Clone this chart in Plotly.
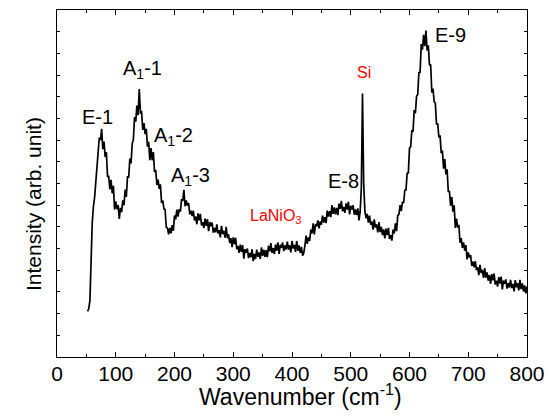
import plotly.graph_objects as go

# Raman spectrum of the film: wavenumber (cm^-1) sampled every 2 cm^-1, intensity in arbitrary units
wavenumber = list(range(52, 801, 2))
intensity = [
    2.10, 2.22, 2.60, 4.50, 6.20, 6.95, 7.35, 8.05, 8.75, 9.35,          # 52-70
    10.12, 10.00, 10.52, 9.58, 9.93, 9.22, 9.45, 8.33, 8.33, 7.73,       # 72-90
    8.17, 7.55, 7.89, 6.80, 7.18, 6.82, 7.00, 6.37, 6.88, 6.68,          # 92-110
    7.22, 7.00, 7.72, 7.38, 8.33, 8.27, 9.15, 8.93, 9.83, 10.03,         # 112-130
    11.07, 10.85, 11.59, 11.15, 12.35, 11.27, 11.30, 10.47, 10.78, 10.28,  # 132-150
    10.52, 9.70, 9.92, 9.08, 9.63, 9.07, 9.45, 8.53, 8.63, 7.93,         # 152-170
    8.18, 7.75, 7.96, 7.10, 7.22, 6.83, 6.80, 5.98, 5.95, 5.65,          # 172-190
    5.95, 5.70, 6.08, 5.82, 6.52, 6.35, 6.80, 6.47, 6.82, 6.70,          # 192-210
    7.28, 7.20, 7.71, 6.95, 7.22, 6.98, 7.10, 6.58, 6.75, 6.50,          # 212-230
    6.75, 6.30, 6.48, 6.12, 6.62, 6.30, 6.60, 6.07, 6.22, 5.95,          # 232-250
    6.38, 6.05, 6.36, 5.80, 6.22, 6.03, 6.20, 5.73, 5.95, 5.75,          # 252-270
    6.12, 5.70, 5.85, 5.52, 6.05, 5.67, 5.82, 5.50, 6.00, 5.48,          # 272-290
    5.65, 5.25, 5.48, 5.07, 5.52, 5.20, 5.50, 4.97, 5.12, 4.80,          # 292-310
    5.18, 4.85, 5.16, 4.53, 4.97, 4.80, 5.00, 4.56, 4.80, 4.60,          # 312-330
    4.97, 4.42, 4.75, 4.52, 4.95, 4.62, 4.82, 4.52, 5.05, 4.66,          # 332-350
    4.95, 4.62, 4.93, 4.60, 5.12, 4.87, 5.25, 4.80, 5.02, 4.75,          # 352-370
    5.18, 4.90, 5.28, 4.75, 5.17, 5.03, 5.28, 4.88, 5.15, 4.95,          # 372-390
    5.32, 4.95, 5.15, 4.82, 5.35, 5.00, 5.17, 4.85, 5.35, 4.90,          # 392-410
    5.15, 4.80, 5.08, 4.67, 4.80, 5.15, 5.60, 5.22, 5.52, 5.35,          # 412-430
    5.88, 5.70, 6.16, 5.65, 6.12, 6.03, 6.30, 5.93, 6.25, 6.10,          # 432-450
    6.52, 6.20, 6.45, 6.17, 6.75, 6.47, 6.72, 6.45, 7.00, 6.60,          # 452-470
    6.90, 6.58, 6.88, 6.54, 7.07, 6.83, 7.20, 6.72, 6.92, 6.65,          # 472-490
    7.08, 6.80, 7.16, 6.58, 6.97, 6.80, 7.00, 6.56, 6.80, 6.55,          # 492-510
    6.85, 6.30, 6.70, 7.80, 12.15, 8.00, 6.75, 6.40, 6.60, 6.20,         # 512-530 (Si line at 520)
    6.52, 6.10, 6.25, 5.87, 6.35, 5.97, 6.12, 5.75, 6.22, 5.76,          # 532-550
    6.00, 5.62, 5.88, 5.47, 5.92, 5.62, 5.95, 5.44, 5.62, 5.37,          # 552-570
    5.88, 5.70, 6.16, 5.80, 6.52, 6.58, 7.00, 6.73, 7.15, 7.10,          # 572-590
    7.69, 7.70, 8.47, 8.49, 9.63, 9.70, 10.46, 10.39, 11.39, 11.24,      # 592-610
    12.02, 12.10, 13.12, 13.13, 14.43, 14.17, 14.85, 14.33, 15.05, 14.13,  # 612-630
    14.37, 13.45, 13.49, 12.20, 12.38, 11.77, 11.70, 10.72, 10.78, 10.13,  # 632-650
    10.22, 9.40, 9.52, 8.68, 9.13, 8.42, 8.65, 7.63, 7.63, 6.98,         # 652-670
    7.37, 6.70, 6.99, 5.95, 6.38, 5.97, 6.10, 5.27, 5.48, 5.03,          # 672-690
    5.28, 4.90, 5.16, 4.50, 4.82, 4.58, 4.70, 4.20, 4.40, 4.13,          # 692-710
    4.42, 4.00, 4.15, 3.77, 4.25, 3.87, 4.02, 3.65, 4.10, 3.66,          # 712-730
    3.90, 3.52, 3.78, 3.37, 3.82, 3.53, 3.85, 3.34, 3.52, 3.25,          # 732-750
    3.68, 3.38, 3.71, 3.12, 3.52, 3.38, 3.58, 3.15, 3.41, 3.20,          # 752-770
    3.56, 3.18, 3.37, 3.03, 3.55, 3.21, 3.40, 3.07, 3.56, 3.13,          # 772-790
    3.39, 3.03, 3.30, 2.93, 3.25,                                        # 792-800
]
assert len(wavenumber) == len(intensity)

# Mode assignments written next to the bands
peak_labels = ["E-1", "A<sub>1</sub>-1", "A<sub>1</sub>-2", "A<sub>1</sub>-3",
               "E-8", "E-9", "Si", "LaNiO<sub>3</sub>"]
label_x = [69, 145, 198, 227, 488, 669, 522, 373]
label_y = [11.06, 13.25, 10.15, 8.3, 8.1, 14.84, 13.1, 6.5]
label_color = ["black"] * 6 + ["red", "red"]
label_size = [20, 20, 20, 20, 20, 20, 16, 16]

FONT = "Liberation Sans, Arial, sans-serif"
W, H = 550, 420
ML, MR, MT, MB = 57, 23, 10, 63
PW, PH = W - ML - MR, H - MT - MB


def px_to_paper(px, py):
    """Pixel position in the page -> paper coordinates of the plot area."""
    return (px - ML) / PW, (H - MB - py) / PH


fig = go.Figure()
fig.add_trace(go.Scatter(
    x=wavenumber, y=intensity, mode="lines",
    line=dict(color="black", width=1.7),
    showlegend=False, hoverinfo="skip",
))

for t, lx, ly, c, s in zip(peak_labels, label_x, label_y, label_color, label_size):
    fig.add_annotation(x=lx, y=ly, xref="x", yref="y", text=t, showarrow=False,
                       font=dict(family=FONT, size=s, color=c),
                       xanchor="center", yanchor="middle")

# Axis titles
tx, ty = px_to_paper(33, 204)
fig.add_annotation(x=tx, y=ty, xref="paper", yref="paper", text="Intensity (arb. unit)",
                   showarrow=False, textangle=-90,
                   font=dict(family=FONT, size=21, color="black"),
                   xanchor="center", yanchor="middle")
tx, ty = px_to_paper(300, 395)
fig.add_annotation(x=tx, y=ty, xref="paper", yref="paper", text="Wavenumber (cm<sup>-1</sup>)",
                   showarrow=False,
                   font=dict(family=FONT, size=23, color="black"),
                   xanchor="center", yanchor="middle")

fig.update_layout(
    width=W, height=H,
    margin=dict(l=ML, r=MR, t=MT, b=MB, autoexpand=False),
    paper_bgcolor="white", plot_bgcolor="white",
    font=dict(family=FONT, color="black"),
)
fig.update_xaxes(
    range=[0, 800], dtick=100, tick0=0, automargin=False,
    ticks="inside", ticklen=5, tickwidth=1.3, tickcolor="black",
    minor=dict(dtick=50, ticks="inside", ticklen=3, tickwidth=1.3, tickcolor="black"),
    showline=True, linecolor="black", linewidth=1.3, mirror="ticks",
    showgrid=False, zeroline=False,
    tickfont=dict(family=FONT, size=21, color="black"),
    ticklabelstandoff=-2,
)
fig.update_yaxes(
    range=[0, 16], dtick=1, tick0=0, automargin=False,
    ticks="inside", ticklen=3, tickwidth=1.3, tickcolor="black",
    showticklabels=False,
    showline=True, linecolor="black", linewidth=1.3, mirror="ticks",
    showgrid=False, zeroline=False,
)

fig.write_html("out.html")
